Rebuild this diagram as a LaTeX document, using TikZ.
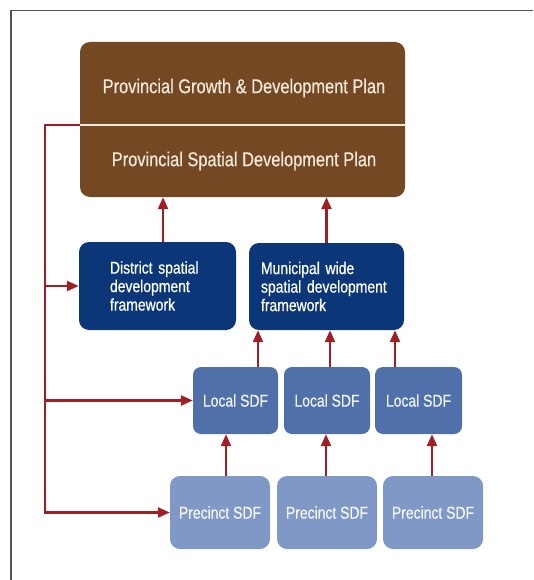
\documentclass[tikz,border=0pt]{standalone}
\usepackage{fontspec}
\setmainfont{Liberation Sans}[FakeStretch=0.82, FakeBold=0.6]
\usepackage{xcolor}
\definecolor{sdfBrown}{HTML}{734822}
\definecolor{sdfNavy}{HTML}{0B3677}
\definecolor{sdfLocal}{HTML}{5070AA}
\definecolor{sdfPrecinct}{HTML}{7F98C6}
\definecolor{sdfRed}{HTML}{A01E24}
\definecolor{sdfCream}{HTML}{F1E8DA}
\definecolor{sdfFrame}{HTML}{555555}
\usetikzlibrary{arrows.meta}

\tikzset{
  sdfbox/.style={rounded corners=10pt, inner sep=0pt},
  feed/.style={sdfRed, line width=2.4pt, -{Triangle[width=10pt,length=12pt]}},
}

\begin{document}
\begin{tikzpicture}[x=1pt, y=-1pt]
  \useasboundingbox (0,0) rectangle (533,580);
  \draw[sdfFrame, line width=1.5pt] (11,580) -- (11,10.5) -- (533,10.5);
  \node[sdfbox, fill=sdfBrown, minimum width=325pt, minimum height=155pt] (plan) at (242.5,119.5) {};
  \draw[sdfCream, line width=1.5pt] (plan.west |- 0,125) -- (plan.east |- 0,125);
  \node[text=sdfCream, font=\fontsize{20}{24}\selectfont] (pgdp) at (244,88) {Provincial Growth \& Development Plan};
  \node[text=sdfCream, font=\fontsize{20}{24}\selectfont] (psdp) at (244,161) {Provincial Spatial Development Plan};
  \coordinate (split) at (plan.west |- 0,125);
  \coordinate (bend) at (45,125);
  \node[sdfbox, fill=sdfNavy, text=white, minimum width=157pt, minimum height=88pt, text width=95pt, inner xsep=31pt, align=left, font=\fontsize{17}{18.5}\selectfont] (dist) at (157.5,286) {District spatial\\development\\framework};
  \node[sdfbox, fill=sdfNavy, text=white, minimum width=155pt, minimum height=87pt, text width=131pt, inner xsep=12pt, align=left, font=\fontsize{17}{18.5}\selectfont] (muni) at (326.5,286.5) {Municipal wide\\spatial development\\framework};
  \node[sdfbox, rounded corners=8pt, fill=sdfLocal, text=white!92!sdfLocal, minimum width=85pt, minimum height=67pt, font=\fontsize{17}{20}\selectfont] (local1) at (235.5,400.5) {Local SDF};
  \node[sdfbox, rounded corners=8pt, fill=sdfLocal, text=white!92!sdfLocal, minimum width=86pt, minimum height=67pt, font=\fontsize{17}{20}\selectfont] (local2) at (327,400.5) {Local SDF};
  \node[sdfbox, rounded corners=8pt, fill=sdfLocal, text=white!92!sdfLocal, minimum width=87pt, minimum height=67pt, font=\fontsize{17}{20}\selectfont] (local3) at (418.5,400.5) {Local SDF};
  \node[sdfbox, fill=sdfPrecinct, text=white!92!sdfPrecinct, minimum width=100pt, minimum height=73pt, font=\fontsize{17}{20}\selectfont] (prec1) at (220,512.5) {Precinct SDF};
  \node[sdfbox, fill=sdfPrecinct, text=white!92!sdfPrecinct, minimum width=100pt, minimum height=73pt, font=\fontsize{17}{20}\selectfont] (prec2) at (327,512.5) {Precinct SDF};
  \node[sdfbox, fill=sdfPrecinct, text=white!92!sdfPrecinct, minimum width=100pt, minimum height=73pt, font=\fontsize{17}{20}\selectfont] (prec3) at (433,512.5) {Precinct SDF};
  \draw[sdfRed, line width=2.4pt] (split) -- (bend) -- (bend |- prec1.west);
  \draw[feed] (bend |- dist.west) -- (dist.west);
  \draw[feed] (bend |- local1.west) -- (local1.west);
  \draw[feed, shorten <=-1.2pt] (bend |- prec1.west) -- (prec1.west);
  \draw[feed] ([xshift=5.5pt]dist.north) -- ([xshift=5.5pt]dist.north |- plan.south);
  \draw[feed] (muni.north) -- (muni.north |- plan.south);
  \draw[feed] ([xshift=22.5pt]local1.north) -- ([xshift=22.5pt]local1.north |- muni.south);
  \draw[feed] ([xshift=3pt]local2.north) -- ([xshift=3pt]local2.north |- muni.south);
  \draw[feed] ([xshift=-23.5pt]local3.north) -- ([xshift=-23.5pt]local3.north |- muni.south);
  \draw[feed] ([xshift=6pt]prec1.north) -- ([xshift=6pt]prec1.north |- local1.south);
  \draw[feed] ([xshift=-1pt]prec2.north) -- ([xshift=-1pt]prec2.north |- local2.south);
  \draw[feed] ([xshift=-1pt]prec3.north) -- ([xshift=-1pt]prec3.north |- local3.south);
\end{tikzpicture}
\end{document}
